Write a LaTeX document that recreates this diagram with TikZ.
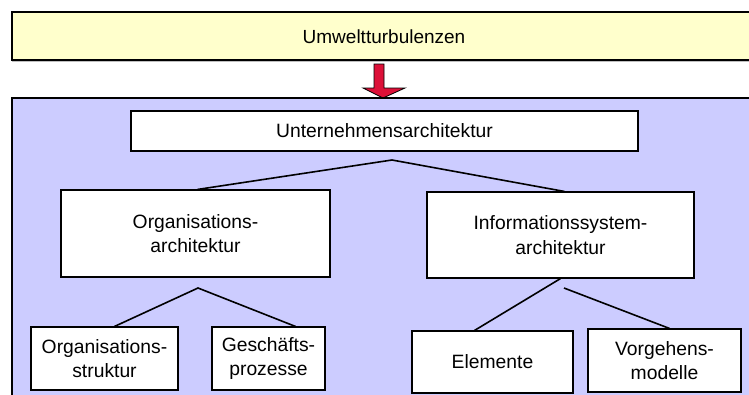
\documentclass[tikz,border=0pt]{standalone}
\usepackage{fontspec}
\setmainfont{Liberation Sans}
\usetikzlibrary{shadows}

\definecolor{umweltgelb}{RGB}{255,255,204}
\definecolor{architekturblau}{RGB}{204,204,255}
\definecolor{pfeilrot}{RGB}{220,16,56}

\tikzset{
  archbox/.style = {draw, fill = white, line width = 1.1pt, align = center,
    inner sep = 0pt, font = \fontsize{19.3}{24.5}\selectfont,
    drop shadow = {shadow xshift = 1pt, shadow yshift = -1pt, fill = gray, opacity = 0.6}},
  astlinie/.style = {line width = 1.6pt}
}

\begin{document}
\begin{tikzpicture}[x = 1pt, y = -1pt]
      \clip (0, 0) rectangle (749, 394);
      \fill [white] (0, 0) rectangle (749, 394);
      \draw [fill = umweltgelb, line width = 1.1pt,
        drop shadow = {shadow xshift = 0pt, shadow yshift = -1.5pt, fill = gray}]
        (12, 12) rectangle (770, 60);
      \node (umwelt) at (384, 37) [font = \fontsize{19}{24}\selectfont] {Umweltturbulenzen};
      \draw [fill = pfeilrot, line width = 0.8pt]
        (374, 64) -- (384, 64) -- (384, 88) -- (405, 88) -- (383, 98)
        -- (363, 88) -- (374, 88) -- cycle;
      \draw [fill = architekturblau, line width = 1.1pt] (12, 98) rectangle (770, 410);
      \node (ua) at (384.5, 131) [archbox, minimum width = 507pt, minimum height = 40pt] {Unternehmensarchitektur};
      \node (oa) at (195.5, 233.5) [archbox, minimum width = 269pt, minimum height = 87pt] {Organisations-\\architektur};
      \node (isa) at (560.5, 235) [archbox, minimum width = 267pt, minimum height = 86pt] {Informationssystem-\\architektur};
      \node (os) at (104.5, 358.5) [archbox, minimum width = 147pt, minimum height = 63pt] {Organisations-\\struktur};
      \node (gp) at (268.5, 358.5) [archbox, minimum width = 113pt, minimum height = 63pt] {Geschäfts-\\prozesse};
      \node (el) at (492.5, 362) [archbox, minimum width = 161pt, minimum height = 62pt] {Elemente};
      \node (vm) at (664.5, 360.5) [archbox, minimum width = 153pt, minimum height = 63pt] {Vorgehens-\\modelle};
      \coordinate (ua-ast) at (392, 160);
      \coordinate (oa-ast) at (198, 288);
      \coordinate (isa-ast) at (564, 288);
      \draw [astlinie] ([xshift = 2pt]oa.north) -- (ua-ast) -- ([xshift = 4pt]isa.north);
      \draw [astlinie] ([xshift = 10pt]os.north) -- (oa-ast) -- ([xshift = 27pt]gp.north);
      \draw [astlinie] ([xshift = -18pt]el.north) -- (isa.south);
      \draw [astlinie] (isa-ast) -- ([xshift = 5pt]vm.north);
    \end{tikzpicture}
\end{document}
